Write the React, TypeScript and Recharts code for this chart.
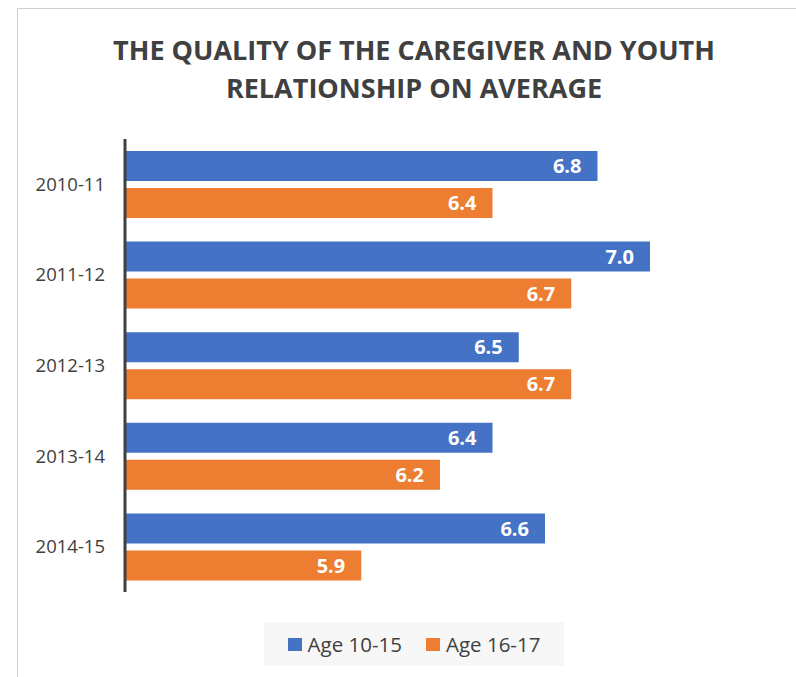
import React from 'react';
import { BarChart, Bar, XAxis, YAxis, Legend, LabelList } from 'recharts';

const years = ['2010-11', '2011-12', '2012-13', '2013-14', '2014-15'];
const age1015 = [6.8, 7.0, 6.5, 6.4, 6.6];
const age1617 = [6.4, 6.7, 6.7, 6.2, 5.9];

const BLUE = '#4472C4';
const ORANGE = '#ED7D31';
const TEXT = '#404040';

const chartData = years.map((y, i) => ({
  year: y,
  'Age 10-15': age1015[i],
  'Age 16-17': age1617[i],
}));

const LegendBox = () => (
  <div
    style={{
      width: 300,
      height: 44,
      background: '#f7f7f7',
      display: 'flex',
      alignItems: 'center',
      justifyContent: 'center',
      fontFamily: 'Open Sans, sans-serif',
      fontSize: 20.5,
      color: TEXT,
    }}
  >
    <span style={{ width: 14, height: 13, background: BLUE, marginRight: 6, display: 'inline-block' }} />
    <span style={{ marginRight: 24 }}>Age 10-15</span>
    <span style={{ width: 14, height: 13, background: ORANGE, marginRight: 6, display: 'inline-block' }} />
    <span>Age 16-17</span>
  </div>
);

const App: React.FC = () => {
  return (
    <div style={{ position: 'absolute', left: 0, top: 0, width: 796, height: 677, overflow: 'hidden', background: '#fff' }}>
      <div
        style={{
          position: 'absolute',
          left: 17,
          top: 8,
          width: 820,
          height: 700,
          border: '1px solid #d0d0d0',
        }}
      />
      <div
        style={{
          position: 'absolute',
          left: 0,
          top: 31,
          width: 828,
          textAlign: 'center',
          fontFamily: 'Open Sans, sans-serif',
          fontWeight: 700,
          fontSize: 27,
          lineHeight: '38px',
          color: TEXT,
        }}
      >
        THE QUALITY OF THE CAREGIVER AND YOUTH
        <br />
        RELATIONSHIP ON AVERAGE
      </div>
      <div style={{ position: 'absolute', left: 0, top: 0 }}>
        <BarChart
          width={796}
          height={677}
          data={chartData}
          layout="vertical"
          margin={{ top: 139, right: 93.5, bottom: 85, left: 0 }}
          barSize={30}
          barGap={7}
        >
          <XAxis type="number" domain={[5, 7.2]} hide />
          <YAxis
            type="category"
            dataKey="year"
            width={125}
            axisLine={{ stroke: TEXT, strokeWidth: 3 }}
            tickLine={false}
            tickSize={0}
            tickMargin={20}
            tick={{ fill: TEXT, fontSize: 18.5, fontFamily: 'Open Sans, sans-serif' }}
          />
          <Legend
            layout="vertical"
            align="center"
            verticalAlign="middle"
            content={() => <LegendBox />}
            wrapperStyle={{ position: 'absolute', left: 264, top: 622, width: 300, height: 44 }}
          />
          <Bar dataKey="Age 10-15" fill={BLUE} isAnimationActive={false}>
            <LabelList
              dataKey="Age 10-15"
              position="insideRight"
              offset={16}
              fill="#fff"
              fontSize={20}
              fontWeight={700}
              fontFamily="Open Sans, sans-serif"
              formatter={(v: number) => v.toFixed(1)}
            />
          </Bar>
          <Bar dataKey="Age 16-17" fill={ORANGE} isAnimationActive={false}>
            <LabelList
              dataKey="Age 16-17"
              position="insideRight"
              offset={16}
              fill="#fff"
              fontSize={20}
              fontWeight={700}
              fontFamily="Open Sans, sans-serif"
              formatter={(v: number) => v.toFixed(1)}
            />
          </Bar>
        </BarChart>
      </div>
    </div>
  );
};

export default App;
